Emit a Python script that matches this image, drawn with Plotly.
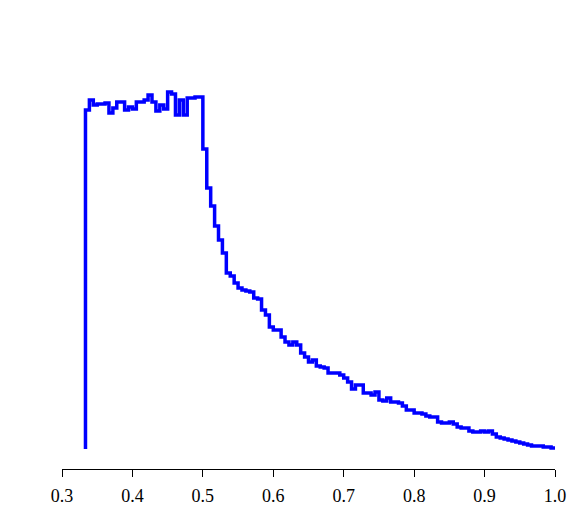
"""Step histogram with a bare x axis (R-style type='s' plot)."""

import plotly.graph_objects as go

# histogram: 120 equal bins from 1/3 to 1
bin_start = 1 / 3
bin_end = 1.0
n_bins = 120

# bar heights (arbitrary units, y axis is not drawn)
counts = [
    339, 349, 344, 345, 345, 346, 336, 341, 347, 347,
    339, 342, 340, 347, 347, 349, 354, 347, 338, 344,
    340, 357, 355, 334, 349, 334, 351, 351, 352, 352,
    300, 261, 243, 223, 209, 196, 176, 173, 166, 161,
    159, 158, 157, 151, 150, 139, 134, 122, 119, 119,
    112, 107, 104, 107, 104, 96, 92, 87, 89, 83,
    82, 81, 76, 76, 76, 74, 71, 67, 60, 64,
    64, 56, 56, 54, 57, 49, 48, 51, 47, 47,
    46, 43, 39, 39, 36, 36, 35, 33, 32, 32,
    27, 26, 26, 27, 25, 22, 21, 21, 18, 17,
    17, 18, 17, 18, 15, 12, 11, 10, 9, 8,
    7, 6, 5, 4, 3, 3, 3, 2, 2, 1,
]

x_ticks = [0.3, 0.4, 0.5, 0.6, 0.7, 0.8, 0.9, 1.0]
x_ticktext = ["0.3", "0.4", "0.5", "0.6", "0.7", "0.8", "0.9", "1.0"]

width = (bin_end - bin_start) / n_bins
edges = [bin_start + i * width for i in range(n_bins)]

# step outline: start at zero, climb to the first bin, close at the right end
xs = [bin_start] + edges + [bin_end]
ys = [0] + counts + [counts[-1]]

fig = go.Figure()
fig.add_trace(
    go.Scatter(
        x=xs,
        y=ys,
        mode="lines",
        line=dict(color="#0000ff", width=3.5, shape="hv"),
        hoverinfo="skip",
        showlegend=False,
    )
)

fig.update_layout(
    width=581,
    height=518,
    # the page body adds 8px around the figure
    margin=dict(l=54, r=34, t=12, b=57),
    paper_bgcolor="white",
    plot_bgcolor="white",
    font=dict(family="'Liberation Serif', 'Times New Roman', serif", size=18, color="black"),
)
fig.update_xaxes(
    range=[0.3, 1.0],
    tickvals=x_ticks,
    ticktext=x_ticktext,
    showline=True,
    linecolor="black",
    linewidth=1,
    ticks="outside",
    ticklen=7,
    tickcolor="black",
    tickwidth=1,
    ticklabelstandoff=3,
    showgrid=False,
    zeroline=False,
)
fig.update_yaxes(range=[-20, 429], visible=False, showgrid=False, zeroline=False)

fig.write_html("out.html")
